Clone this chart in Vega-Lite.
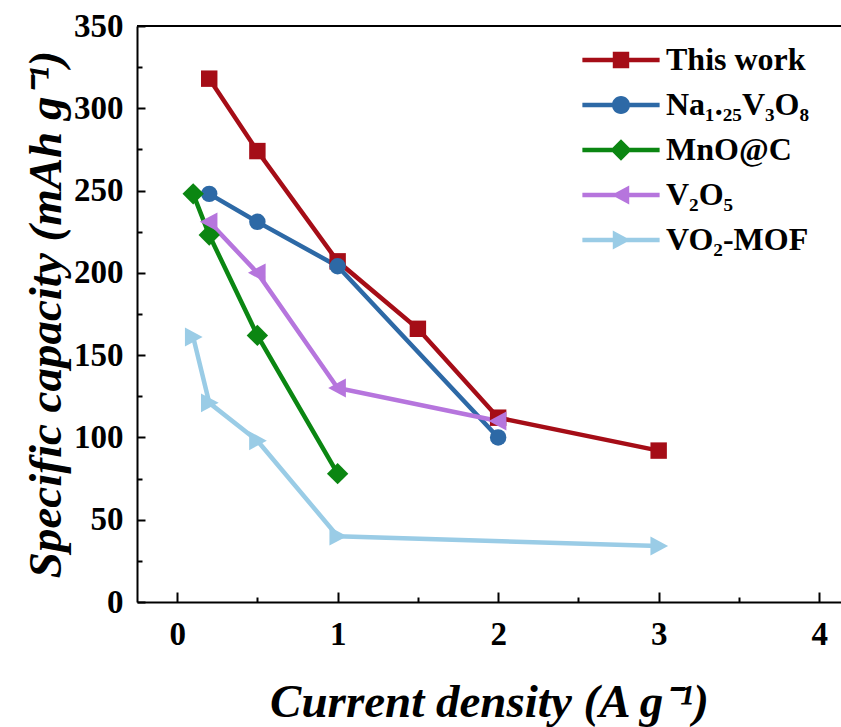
{
  "$schema": "https://vega.github.io/schema/vega-lite/v6.json",
  "autosize": "none",
  "padding": {"left": 137, "top": 26, "right": 0, "bottom": 125},
  "width": 704,
  "height": 576,
  "background": "white",
  "config": {
    "view": {"stroke": null},
    "font": "Liberation Serif",
    "axis": {
      "domainColor": "black",
      "domainWidth": 2,
      "tickColor": "black",
      "tickWidth": 2,
      "grid": false,
      "labelFont": "Liberation Serif",
      "labelFontWeight": "bold",
      "labelFontSize": 33,
      "labelColor": "black",
      "titleFont": "Liberation Serif",
      "titleFontWeight": "bold",
      "titleFontStyle": "italic",
      "titleFontSize": 47,
      "titleColor": "black"
    },
    "legend": {
      "padding": 0,
      "labelFont": "Liberation Serif",
      "labelFontWeight": "bold",
      "labelFontSize": 32,
      "labelColor": "black",
      "symbolSize": 270,
      "symbolStrokeWidth": 0,
      "symbolOpacity": 1
    }
  },
  "data": {
    "values": [
      {"series": "This work", "x": 0.2, "y": 318},
      {"series": "This work", "x": 0.5, "y": 274},
      {"series": "This work", "x": 1.0, "y": 207},
      {"series": "This work", "x": 1.5, "y": 166},
      {"series": "This work", "x": 2.0, "y": 112},
      {"series": "This work", "x": 3.0, "y": 92},
      {"series": "Na₁.₂₅V₃O₈", "x": 0.2, "y": 248},
      {"series": "Na₁.₂₅V₃O₈", "x": 0.5, "y": 231},
      {"series": "Na₁.₂₅V₃O₈", "x": 1.0, "y": 204},
      {"series": "Na₁.₂₅V₃O₈", "x": 2.0, "y": 100},
      {"series": "MnO@C", "x": 0.1, "y": 248},
      {"series": "MnO@C", "x": 0.2, "y": 223},
      {"series": "MnO@C", "x": 0.5, "y": 162},
      {"series": "MnO@C", "x": 1.0, "y": 78},
      {"series": "V₂O₅", "x": 0.2, "y": 231},
      {"series": "V₂O₅", "x": 0.5, "y": 200},
      {"series": "V₂O₅", "x": 1.0, "y": 130},
      {"series": "V₂O₅", "x": 2.0, "y": 110},
      {"series": "VO₂-MOF", "x": 0.1, "y": 161},
      {"series": "VO₂-MOF", "x": 0.2, "y": 121},
      {"series": "VO₂-MOF", "x": 0.5, "y": 98},
      {"series": "VO₂-MOF", "x": 1.0, "y": 40},
      {"series": "VO₂-MOF", "x": 3.0, "y": 34}
    ]
  },
  "encoding": {
    "x": {
      "field": "x", "type": "quantitative",
      "scale": {"domain": [-0.25, 4.136], "nice": false, "zero": false},
      "axis": null
    },
    "y": {
      "field": "y", "type": "quantitative",
      "scale": {"domain": [0, 350], "nice": false},
      "axis": null
    },
    "color": {
      "field": "series", "type": "nominal",
      "scale": {
        "domain": ["This work", "Na₁.₂₅V₃O₈", "MnO@C", "V₂O₅", "VO₂-MOF"],
        "range": ["#A50D17", "#2D69A6", "#0B8612", "#B675DD", "#9ACCE6"]
      },
      "legend": null
    }
  },
  "layer": [
    {
      "mark": {"type": "rule", "color": "black", "strokeWidth": 2},
      "encoding": {"y": {"datum": 350, "axis": null}, "x": null, "color": null}
    },
    {
      "mark": {"type": "point", "opacity": 0},
      "encoding": {
        "color": null,
        "x": {
          "field": "x", "type": "quantitative",
          "axis": {"orient": "bottom", "values": [0.5, 1.5, 2.5, 3.5], "tickSize": -5, "labels": false, "domain": false, "title": null}
        },
        "y": {
          "field": "y", "type": "quantitative",
          "axis": {"orient": "left", "values": [25, 75, 125, 175, 225, 275, 325], "tickSize": -5, "labels": false, "domain": false, "title": null}
        }
      }
    },
    {
      "mark": {"type": "line", "strokeWidth": 4.5},
      "encoding": {
        "detail": {"field": "series"},
        "x": {
          "field": "x", "type": "quantitative",
          "axis": {
            "orient": "bottom",
            "title": "Current density (A g⁻¹)",
            "values": [0, 1, 2, 3, 4],
            "format": "d",
            "tickSize": -10,
            "labelPadding": 26,
            "titlePadding": 28
          }
        },
        "y": {
          "field": "y", "type": "quantitative",
          "axis": {
            "orient": "left",
            "title": "Specific capacity (mAh g⁻¹)",
            "values": [0, 50, 100, 150, 200, 250, 300, 350],
            "tickSize": -8,
            "labelPadding": 22,
            "titlePadding": 3
          }
        }
      }
    },
    {
      "mark": {"type": "point", "filled": true, "opacity": 1, "size": 270},
      "encoding": {
        "shape": {
          "field": "series", "type": "nominal",
          "legend": null,
          "scale": {
            "domain": ["This work", "Na₁.₂₅V₃O₈", "MnO@C", "V₂O₅", "VO₂-MOF"],
            "range": [
              "M-1,-1H1V1H-1Z",
              "circle",
              "M0,-1.3L1.3,0L0,1.3L-1.3,0Z",
              "M-1.15,0L1,-1.15L1,1.15Z",
              "M1.15,0L-1,1.15L-1,-1.15Z"
            ]
          }
        }
      }
    },
    {
      "transform": [{"filter": "datum.y > 1000"}],
      "mark": {"type": "point", "filled": true, "opacity": 1, "size": 270},
      "encoding": {
        "color": {
          "field": "series", "type": "nominal",
          "legend": {"orient": "none", "legendX": 468, "legendY": 18, "title": null, "labelOffset": 29, "rowPadding": 13}
        },
        "shape": {
          "field": "series", "type": "nominal",
          "legend": {"orient": "none", "legendX": 468, "legendY": 18, "title": null, "labelOffset": 29, "rowPadding": 13},
          "scale": {
            "domain": ["This work", "Na₁.₂₅V₃O₈", "MnO@C", "V₂O₅", "VO₂-MOF"],
            "range": [
              "M-4.7,-0.27H4.7V0.27H-4.7Z M-1,-1H1V1H-1Z",
              "M-4.7,-0.27H4.7V0.27H-4.7Z M-1.1,0A1.1,1.1 0 1,1 1.1,0A1.1,1.1 0 1,1 -1.1,0Z",
              "M-4.7,-0.27H4.7V0.27H-4.7Z M0,-1.3L1.3,0L0,1.3L-1.3,0Z",
              "M-4.7,-0.27H4.7V0.27H-4.7Z M-1.15,0L1,-1.15L1,1.15Z",
              "M-4.7,-0.27H4.7V0.27H-4.7Z M1.15,0L-1,1.15L-1,-1.15Z"
            ]
          }
        }
      }
    }
  ],
  "resolve": {
    "scale": {"shape": "independent", "color": "independent"},
    "axis": {"x": "independent", "y": "independent"}
  }
}
